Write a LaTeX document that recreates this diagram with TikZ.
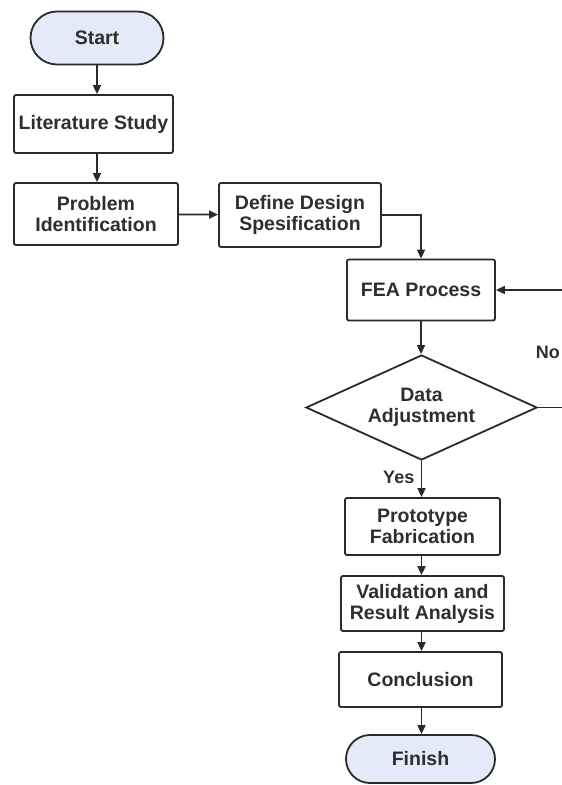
\documentclass[tikz,border=0pt]{standalone}
\usepackage{fontspec}
\setmainfont{Liberation Sans}
\usetikzlibrary{shapes.geometric,shapes.misc,arrows.meta}
\definecolor{txt}{HTML}{2E2E2E}
\definecolor{line}{HTML}{2A2A2A}
\definecolor{term}{HTML}{E4EAF8}
\tikzset{
  base/.style={draw=line, line width=1.8pt, text=txt, font=\fontsize{19.5}{21}\selectfont\bfseries, align=center, inner sep=1pt},
  procbox/.style={base, rectangle, rounded corners=2pt},
  termbox/.style={base, rounded rectangle, fill=term},
  decbox/.style={base, diamond, aspect=2.2, inner sep=0pt},
  conn/.style={draw=line, line width=1.8pt, -{Triangle[length=9pt,width=8pt]}},
  lbl/.style={text=txt, font=\fontsize{18}{20}\selectfont\bfseries}
}
\begin{document}
\begin{tikzpicture}[x=1pt,y=-1pt]
\useasboundingbox (0,0) rectangle (562,785);
\clip (0,0) rectangle (562,785);
\fill[white] (0,0) rectangle (562,785);
\node[termbox, minimum width=135pt, minimum height=53pt] (start) at (97,38) {Start};
\node[procbox, minimum width=159pt, minimum height=58pt] (lit) at (93.5,124) {Literature Study};
\node[procbox, minimum width=164pt, minimum height=62pt] (prob) at (96,214) {Problem\\Identification};
\node[procbox, minimum width=162pt, minimum height=64pt] (def) at (300,215) {Define Design\\Spesification};
\node[procbox, minimum width=148pt, minimum height=61pt] (fea) at (421,290) {FEA Process};
\node[decbox, minimum width=231pt, minimum height=105pt] (dec) at (421.5,407.5) {Data\\Adjustment};
\node[procbox, minimum width=155pt, minimum height=57pt] (proto) at (422.5,526.5) {Prototype\\Fabrication};
\node[procbox, minimum width=163pt, minimum height=55pt] (valid) at (422.5,603.5) {Validation and\\Result Analysis};
\node[procbox, minimum width=163pt, minimum height=55pt] (conc) at (420.5,679.5) {Conclusion};
\node[termbox, minimum width=151pt, minimum height=48pt] (fin) at (420.5,759) {Finish};
\coordinate (loopa) at (590,407.5);
\coordinate (loopb) at (590,290);
\draw[conn] (start.south) -- (start.south |- lit.north);
\draw[conn] (start.south |- lit.south) -- (start.south |- prob.north);
\draw[conn] (prob) -- (def);
\draw[conn] (def.east) -| (fea.north);
\draw[conn] (fea.south) -- (fea.south |- dec.north);
\draw[conn] (dec.south) -- node[lbl, pos=0.45, left=3pt] (yes) {Yes} (dec.south |- proto.north);
\draw[conn] (dec.south |- proto.south) -- (dec.south |- valid.north);
\draw[conn] (dec.south |- valid.south) -- (dec.south |- conc.north);
\draw[conn] (dec.south |- conc.south) -- (dec.south |- fin.north);
\draw[conn] (dec.east) -- (loopa) -- (loopb) -- (fea.east);
\node[lbl, anchor=east, inner sep=1pt] (no) at (561,352) {No};
\end{tikzpicture}
\end{document}
